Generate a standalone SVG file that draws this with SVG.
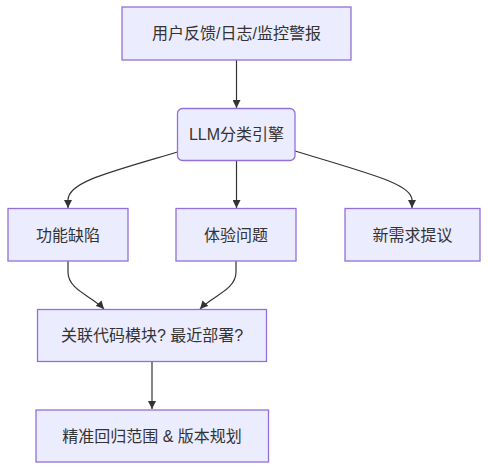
<svg xmlns="http://www.w3.org/2000/svg" width="488" height="470" viewBox="0 0 488 470">
<style>
.node rect{fill:#ECECFF;stroke:#9370DB;stroke-width:1.3;}
.node text{font-family:"Liberation Sans","Noto Sans CJK SC",sans-serif;font-size:16px;fill:#333;text-anchor:middle;dominant-baseline:central;}
.edges path{fill:none;stroke:#333;stroke-width:1.2;}
</style>
<defs>
<marker id="arr" viewBox="0 0 10 10" refX="10" refY="5" markerWidth="8" markerHeight="8" markerUnits="userSpaceOnUse" orient="auto">
<path d="M0,0 L10,5 L0,10 z" fill="#333"/>
</marker>
</defs>
<rect width="488" height="470" fill="#fff"/>
<g class="edges">
<path d="M236.5,60 L236.5,108" marker-end="url(#arr)"/>
<path d="M177.5,152 C110,172 68,182 68,200 L68,208" marker-end="url(#arr)"/>
<path d="M236.5,161 L236.5,208" marker-end="url(#arr)"/>
<path d="M295,151 C370,174 412,184 412,200 L412,208" marker-end="url(#arr)"/>
<path d="M68,261 L68,272 C68,290 92,296 104,309" marker-end="url(#arr)"/>
<path d="M236,261 L236,272 C236,290 212,296 200,309" marker-end="url(#arr)"/>
<path d="M152,361 L152,409" marker-end="url(#arr)"/>
</g>
<g id="n1" class="node"><rect x="122" y="7" width="229" height="53"/><text x="236.5" y="33.5">用户反馈/日志/监控警报</text></g>
<g id="n2" class="node"><rect x="177.5" y="108.5" width="117.5" height="52" rx="5" ry="5"/><text x="236.5" y="134.5">LLM分类引擎</text></g>
<g id="n3" class="node"><rect x="8" y="208.5" width="120" height="52.5"/><text x="68" y="235">功能缺陷</text></g>
<g id="n4" class="node"><rect x="176" y="208.5" width="120" height="52.5"/><text x="236" y="235">体验问题</text></g>
<g id="n5" class="node"><rect x="345" y="208.5" width="135" height="52.5"/><text x="412.5" y="235">新需求提议</text></g>
<g id="n6" class="node"><rect x="37.5" y="309.5" width="229" height="52"/><text x="152" y="335.5">关联代码模块? 最近部署?</text></g>
<g id="n7" class="node"><rect x="36" y="410" width="232.5" height="52"/><text x="152" y="436">精准回归范围 &amp; 版本规划</text></g>
</svg>
